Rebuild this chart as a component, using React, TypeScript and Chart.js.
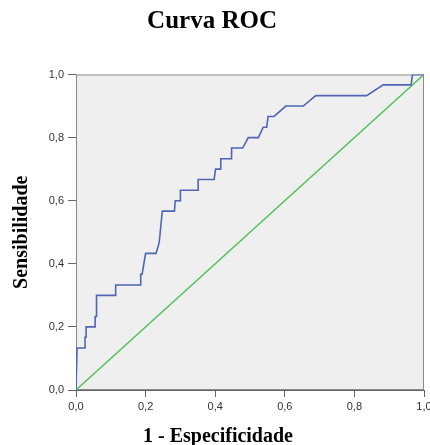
import React, { useEffect, useRef } from "react";
import { Chart, registerables } from "chart.js";

Chart.register(...registerables);

// ROC curve: 1 - Especificidade (x) vs Sensibilidade (y)
const rocFpr = [
  0, 0.003, 0.026, 0.026, 0.029, 0.029, 0.055, 0.055, 0.059, 0.059, 0.114, 0.114,
  0.186, 0.186, 0.19, 0.2, 0.23, 0.239, 0.242, 0.248, 0.283, 0.285, 0.3, 0.3,
  0.351, 0.351, 0.397, 0.401, 0.416, 0.416, 0.447, 0.447, 0.479, 0.495, 0.524,
  0.538, 0.548, 0.552, 0.569, 0.603, 0.653, 0.689, 0.835, 0.883, 0.963, 0.967, 1.0,
];
const rocTpr = [
  0, 0.133, 0.133, 0.167, 0.167, 0.2, 0.2, 0.233, 0.233, 0.3, 0.3, 0.333,
  0.333, 0.367, 0.367, 0.433, 0.433, 0.467, 0.5, 0.567, 0.567, 0.6, 0.6, 0.633,
  0.633, 0.667, 0.667, 0.7, 0.7, 0.733, 0.733, 0.767, 0.767, 0.8, 0.8,
  0.833, 0.833, 0.867, 0.867, 0.9, 0.9, 0.933, 0.933, 0.967, 0.967, 1.0, 1.0,
];
const refX = [0, 1];
const refY = [0, 1];
const tickLabels = ["0,0", "0,2", "0,4", "0,6", "0,8", "1,0"];

const chartTitle = "Curva ROC";
const xTitle = "1 - Especificidade";
const yTitle = "Sensibilidade";

const serif = "'Liberation Serif', 'Times New Roman', serif";

const framePlugin = {
  id: "frame",
  beforeDatasetsDraw(chart: any) {
    const { ctx, chartArea: a } = chart;
    ctx.save();
    ctx.fillStyle = "#efefef";
    ctx.fillRect(a.left, a.top, a.right - a.left, a.bottom - a.top);
    ctx.strokeStyle = "#8a8a8a";
    ctx.lineWidth = 1;
    ctx.strokeRect(a.left + 0.5, a.top + 0.5, a.right - a.left - 1, a.bottom - a.top - 1);
    ctx.restore();
  },
  afterDraw(chart: any) {
    const { ctx } = chart;
    ctx.save();
    ctx.fillStyle = "#000";
    ctx.font = `bold 20px ${serif}`;
    ctx.textAlign = "center";
    ctx.textBaseline = "alphabetic";
    ctx.fillText(xTitle, 218, 441.5);
    ctx.restore();
  },
};

export default function App() {
  const ref = useRef<HTMLCanvasElement | null>(null);
  useEffect(() => {
    if (!ref.current) return;
    const tickCb = (v: any) => {
      const i = Math.round(Number(v) / 0.2);
      return Math.abs(Number(v) - i * 0.2) < 1e-6 ? tickLabels[i] : "";
    };
    const tickFont = { family: "'Liberation Sans', Arial, sans-serif", size: 11 };
    const chart = new Chart(ref.current, {
      type: "line",
      data: {
        datasets: [
          {
            label: "ROC",
            data: rocFpr.map((x, i) => ({ x, y: rocTpr[i] })),
            borderColor: "#5064b8",
            borderWidth: 1.6,
            pointRadius: 0,
            tension: 0,
            fill: false,
          },
          {
            label: "Referência",
            data: refX.map((x, i) => ({ x, y: refY[i] })),
            borderColor: "#55c35c",
            borderWidth: 1.5,
            pointRadius: 0,
            tension: 0,
            fill: false,
          },
        ],
      },
      options: {
        responsive: false,
        animation: false,
        layout: { padding: { left: 0, right: 6, top: 0, bottom: 0 } },
        plugins: {
          legend: { display: false },
          tooltip: { enabled: false },
          title: {
            display: true,
            text: chartTitle,
            color: "#000",
            font: { family: serif, size: 25, weight: "bold", lineHeight: 1.2 },
            padding: { top: 7, bottom: 37.5 },
          },
        },
        scales: {
          x: {
            type: "linear",
            min: 0,
            max: 1,
            ticks: { stepSize: 0.2, callback: tickCb, color: "#333", font: tickFont, padding: 3, maxRotation: 0 },
            grid: { drawOnChartArea: false, drawTicks: true, tickLength: 7, color: "#666" },
            border: { display: true, color: "#666" },
            title: { display: false, text: xTitle },
            afterFit(scale: any) {
              scale.height = 55;
              scale.paddingLeft = 0;
              scale.paddingRight = 0;
            },
          },
          y: {
            type: "linear",
            min: 0,
            max: 1,
            ticks: { stepSize: 0.2, callback: tickCb, color: "#333", font: tickFont, padding: 4 },
            grid: { drawOnChartArea: false, drawTicks: true, tickLength: 8, color: "#666" },
            border: { display: true, color: "#666" },
            title: {
              display: true,
              text: yTitle,
              color: "#000",
              font: { family: serif, size: 20, weight: "bold", lineHeight: 1 },
              padding: { top: 12, bottom: 0 },
            },
            afterFit(scale: any) {
              scale.width = 76;
              scale.paddingTop = 0;
              scale.paddingBottom = 0;
            },
          },
        },
      },
      plugins: [framePlugin],
    } as any);
    return () => chart.destroy();
  }, []);
  return (
    <div style={{ position: "absolute", left: 0, top: 0, width: 430, height: 445, background: "#fff" }}>
      <canvas ref={ref} width={430} height={445} />
    </div>
  );
}
